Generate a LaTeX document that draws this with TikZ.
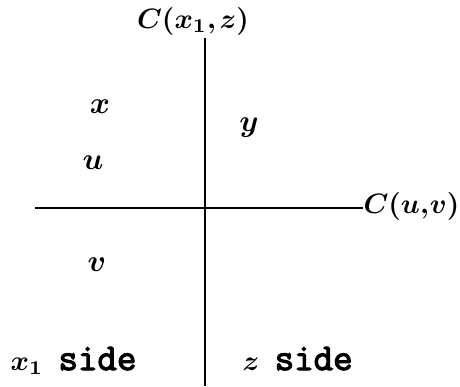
\documentclass[tikz,border=0pt]{standalone}
\usepackage{fontspec}
\newfontfamily\sidefont{Latin Modern Mono}[AutoFakeBold=3]
\newcommand{\sidetxt}{{\sidefont\bfseries\fontsize{13.5}{15}\selectfont side}}
\begin{document}
\begin{tikzpicture}[x=0.357pt, y=-0.357pt,
    lbl/.style={font=\fontsize{10}{12}\selectfont\boldmath, inner sep=1pt},
    var/.style={font=\fontsize{11}{13}\selectfont\boldmath, inner sep=1pt},
    axis/.style={line width=1pt}]
    \useasboundingbox (0,0) rectangle (460,386);

    % axes
    \node[lbl, anchor=base] (Cxz) at (193,28) {$C(x_1,\mkern-1mu z)$};
    \node[lbl, anchor=base west, inner sep=0pt] (Cuv) at (363,213) {$C(u,\mkern-2.5mu v)$};
    \coordinate (bot) at (205,386);
    \coordinate (left) at (35,208);
    \draw[axis] (bot) -- (Cxz.south -| bot);
    \draw[axis] (left) -- (left -| Cuv.west);

    % variables
    \node[var] (x) at (100,107) {$x$};
    \node[var] (y) at (249,128) {$y$};
    \node[var] (u) at (93,163) {$u$};
    \node[var] (v) at (97,265) {$v$};

    % sides
    \node[lbl, anchor=base west, inner sep=0pt] (xside) at (10,370) {$x_1$\hspace{5.5pt}\sidetxt};
    \node[lbl, anchor=base west, inner sep=0pt] (zside) at (242,370) {$z$\hspace{5.5pt}\sidetxt};
\end{tikzpicture}
\end{document}
